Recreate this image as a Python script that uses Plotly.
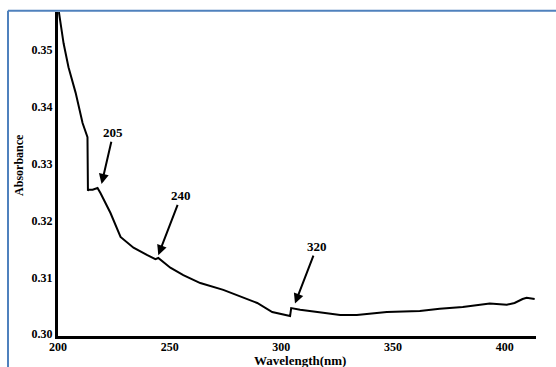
import plotly.graph_objects as go

# Absorbance spectrum
wavelength = [200.4, 202.5, 204.7, 207.9, 211.0, 213.2, 213.4, 213.7, 215.5, 217.7,
              219.0, 223.5, 228.0, 233.8, 240.0, 243.6, 244.9, 250.3, 256.1, 263.7,
              274.0, 289.2, 295.9, 303.9, 304.4, 308.4, 318.7, 326.3, 333.8, 347.2,
              362.0, 370.9, 381.2, 393.3, 400.9, 404.4, 408.0, 409.8, 413.4]
absorbance = [0.3566, 0.3511, 0.3469, 0.3424, 0.3371, 0.3346, 0.3252, 0.3254, 0.3254, 0.3257,
              0.3248, 0.3213, 0.3171, 0.3152, 0.3139, 0.3132, 0.3134, 0.3117, 0.3104, 0.3090,
              0.3078, 0.3055, 0.3039, 0.3032, 0.3046, 0.3043, 0.3038, 0.3034, 0.3034, 0.3039,
              0.3041, 0.3045, 0.3048, 0.3054, 0.3052, 0.3055, 0.3062, 0.3064, 0.3062]

x_ticks = [200, 250, 300, 350, 400]
y_ticks = [0.30, 0.31, 0.32, 0.33, 0.34, 0.35]
y_tick_text = ["0.30", "0.31", "0.32", "0.33", "0.34", "0.35"]

peak_labels = ["205", "240", "320"]
peak_x = [219.5, 244.9, 306.1]
peak_y = [0.3264, 0.3139, 0.3054]
label_x = [224.8, 255.1, 315.9]
label_y = [0.3354, 0.3243, 0.3154]

FONT = "Liberation Serif"

fig = go.Figure()
fig.add_trace(go.Scatter(x=wavelength, y=absorbance, mode="lines",
                         line=dict(color="black", width=2), showlegend=False,
                         hoverinfo="skip"))

for t, hx, hy, lx, ly in zip(peak_labels, peak_x, peak_y, label_x, label_y):
    fig.add_annotation(x=hx, y=hy, ax=lx, ay=ly, axref="x", ayref="y", xref="x", yref="y",
                       text="<b>%s</b>" % t, showarrow=True, arrowhead=2, arrowsize=1,
                       arrowwidth=2, arrowcolor="black",
                       font=dict(family=FONT, size=13, color="black"))

fig.add_annotation(xref="paper", yref="paper", x=0.506, y=-0.077, xanchor="center", yanchor="middle",
                   text="<b>Wavelength(nm)</b>",
                   showarrow=False, font=dict(family=FONT, size=13, color="black"))
fig.add_annotation(xref="paper", yref="paper", x=-0.0816, y=0.528, xanchor="center", yanchor="middle",
                   text="<b>Absorbance</b>",
                   textangle=-90, showarrow=False, font=dict(family=FONT, size=12, color="black"))

# blue frame on top and left
fig.add_shape(type="line", xref="paper", yref="paper", x0=-0.1046, x1=1.05, y0=1.004, y1=1.004,
              line=dict(color="#4F81BD", width=2))
fig.add_shape(type="line", xref="paper", yref="paper", x0=-0.1046, x1=-0.1046, y0=1.004, y1=-0.12,
              line=dict(color="#4F81BD", width=2))

fig.update_layout(
    width=556, height=367,
    margin=dict(l=58, r=20, t=12, b=31),
    paper_bgcolor="white", plot_bgcolor="white",
    font=dict(family=FONT, color="black"),
    xaxis=dict(range=[200, 414], tickvals=x_ticks, ticktext=["<b>%d</b>" % v for v in x_ticks],
               showgrid=False, zeroline=False, showline=True, linecolor="black", linewidth=3,
               ticks="", ticklabelstandoff=-2,
               tickfont=dict(family=FONT, size=12, color="black")),
    yaxis=dict(range=[0.2997, 0.3566], tickvals=y_ticks, ticktext=["<b>%s</b>" % s for s in y_tick_text],
               showgrid=False, zeroline=False, showline=True, linecolor="black", linewidth=3,
               ticks="", tickfont=dict(family=FONT, size=12, color="black")),
)

fig.write_html("out.html", config={"displayModeBar": False},
               post_script="document.body.style.margin='0';")
